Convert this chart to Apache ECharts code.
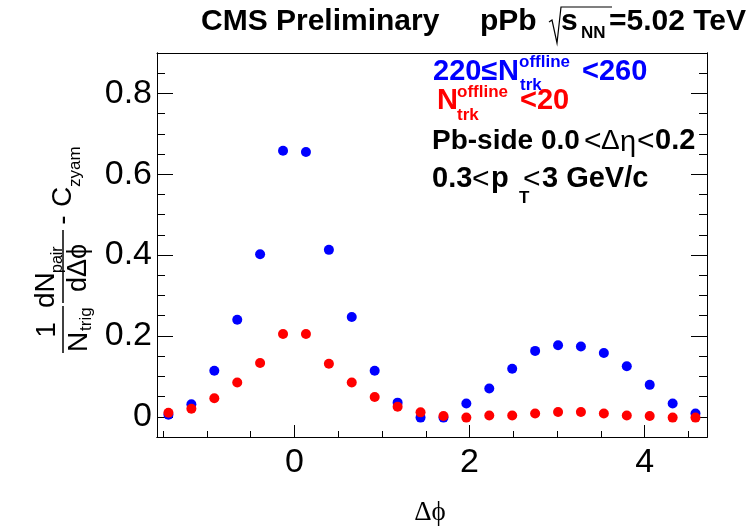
<!DOCTYPE html>
<html><head><meta charset="utf-8">
<script src="https://cdn.jsdelivr.net/npm/echarts@6/dist/echarts.min.js"></script>
<style>html,body{margin:0;padding:0;background:#fff}#c{width:756px;height:527px}</style>
</head><body><div id="c"></div>
<script>
// bin centres in Δφ (rad)
const dphi = [-1.440,-1.178,-0.916,-0.654,-0.393,-0.131,0.131,0.393,0.654,0.916,1.178,1.440,
              1.702,1.963,2.225,2.487,2.749,3.011,3.272,3.534,3.796,4.058,4.320,4.581];
// 220 <= N_trk^offline < 260 (blue)
const highMult = [0.005,0.031,0.114,0.240,0.402,0.658,0.655,0.413,0.247,0.114,0.035,-0.002,
                  -0.002,0.033,0.070,0.119,0.163,0.177,0.174,0.158,0.125,0.079,0.033,0.008];
// N_trk^offline < 20 (red)
const lowMult  = [0.010,0.020,0.046,0.085,0.133,0.205,0.205,0.131,0.085,0.049,0.025,0.011,
                  0.002,-0.002,0.003,0.003,0.008,0.012,0.012,0.008,0.003,0.002,-0.002,-0.002];
const yMajor = [0,0.2,0.4,0.6,0.8];
const yMinor = [0.05,0.1,0.15,0.25,0.3,0.35,0.45,0.5,0.55,0.65,0.7,0.75,0.85];
const xMajor = [0,2,4];
const xMinor = [-1.5,-1,-0.5,0.5,1,1.5,2.5,3,3.5,4.5];
const X_MIN = -Math.PI/2, X_MAX = 3*Math.PI/2, Y_MIN = -0.05, Y_MAX = 0.9;

const FONT = "'Liberation Sans', Arial, Helvetica, sans-serif";
const SERIF = "'Liberation Serif','DejaVu Serif',serif";
const chart = echarts.init(document.getElementById('c'), null, {renderer:'canvas'});
const black = '#000';
function yAx(pos, ticks, len, labels){
  return {type:'value', position:pos, min:Y_MIN, max:Y_MAX, scale:true,
    axisLine:{show:true, onZero:false, lineStyle:{color:black,width:1}},
    axisTick:{show:true, inside:true, length:len, customValues:ticks, lineStyle:{color:black,width:1}},
    axisLabel:{show:!!labels, customValues:labels||[], margin:5, color:black, fontSize:34, fontFamily:FONT},
    splitLine:{show:false}};
}
function xAx(pos, ticks, len, labels){
  return {type:'value', position:pos, min:X_MIN, max:X_MAX,
    axisLine:{show:true, onZero:false, lineStyle:{color:black,width:1}},
    axisTick:{show:!!ticks, inside:true, length:len, customValues:ticks||[], lineStyle:{color:black,width:1}},
    axisLabel:{show:!!labels, customValues:labels||[], margin:9, color:black, fontSize:34, fontFamily:FONT},
    splitLine:{show:false}};
}
const T = (text, x, y, o) => ({type:'text', x, y, style:Object.assign({text, fill:black, fontFamily:FONT, fontSize:29, fontWeight:'bold', align:'left', verticalAlign:'middle'}, o||{})});
const R = (text, x, y, o) => ({type:'text', x, y, style:Object.assign({text, fill:black, fontFamily:FONT, fontSize:30, align:'left', verticalAlign:'middle'}, o||{})});

const option = {
  animation:false,
  backgroundColor:'#fff',
  grid:{left:157, right:49, top:53, bottom:90, containLabel:false},
  xAxis:[xAx('bottom', xMajor, 12, xMajor), xAx('bottom', xMinor, 6), xAx('top', null, 0)],
  yAxis:[yAx('left', yMajor, 16, yMajor), yAx('left', yMinor, 8), yAx('right', yMajor, 16), yAx('right', yMinor, 8)],
  series:[
    {type:'scatter', name:'high', symbol:'circle', symbolSize:10, itemStyle:{color:'#0000ff', opacity:1},
     data: dphi.map((x,i)=>[x, highMult[i]]), z:2},
    {type:'scatter', name:'low', symbol:'circle', symbolSize:10, itemStyle:{color:'#ff0000', opacity:1},
     data: dphi.map((x,i)=>[x, lowMult[i]]), z:3}
  ],
  graphic:[
    // header
    T('CMS Preliminary', 201, 22, {fontSize:30}),
    T('pPb', 480, 22, {fontSize:30}),
    {type:'polyline', shape:{points:[[549,22],[552,20],[557,43],[561,7],[612,7]]}, style:{stroke:black, lineWidth:1.2, fill:null}},
    T('s', 561, 22, {fontSize:30}),
    T('NN', 581, 33, {fontSize:17}),
    T('=5.02 TeV', 609, 22, {fontSize:30}),
    // legend entries
    T('220\u2264', 433, 72, {fill:'#0000ff'}),
    T('N', 498, 72, {fill:'#0000ff'}),
    T('offline', 519, 62, {fill:'#0000ff', fontSize:17}),
    T('trk', 520, 85, {fill:'#0000ff', fontSize:17}),
    T('<260', 582, 72, {fill:'#0000ff'}),
    T('N', 437, 101, {fill:'#ff0000'}),
    T('offline', 457, 92, {fill:'#ff0000', fontSize:17}),
    T('trk', 457, 115, {fill:'#ff0000', fontSize:17}),
    T('<20', 520, 101, {fill:'#ff0000'}),
    T('Pb-side 0.0', 432, 141, {fontSize:28}),
    R('<', 584, 142),
    R('\u0394', 601, 141, {fontSize:28}),
    R('\u03b7', 620, 143, {fontSize:29}),
    R('<', 637, 142),
    T('0.2', 655, 141),
    T('0.3', 432, 179),
    R('<', 472, 180),
    T('p', 491, 179),
    T('T', 519, 198, {fontSize:17}),
    R('<', 523, 180),
    T('3 GeV/c', 542, 179),
    // x-axis title
    {type:'text', x:430, y:513, style:{text:'\u0394\u03d5', fill:black, fontFamily:SERIF, fontSize:27, align:'center', verticalAlign:'middle'}},
    // y-axis title (rotated group)
    {type:'group', x:63, y:353, rotation:Math.PI/2, children:[
      {type:'line', shape:{x1:0,y1:0,x2:47,y2:0}, style:{stroke:black, lineWidth:1.5}},
      {type:'line', shape:{x1:50,y1:0,x2:123,y2:0}, style:{stroke:black, lineWidth:1.5}},
      {type:'text', x:23, y:-2, style:{text:'1', fill:black, fontFamily:FONT, fontSize:28, align:'center', verticalAlign:'bottom'}},
      {type:'text', x:1, y:2, style:{text:'N', fill:black, fontFamily:FONT, fontSize:28, align:'left', verticalAlign:'top'}},
      {type:'text', x:22, y:15, style:{text:'trig', fill:black, fontFamily:FONT, fontSize:17, align:'left', verticalAlign:'top'}},
      {type:'text', x:45, y:-3, style:{text:'dN', fill:black, fontFamily:FONT, fontSize:28, align:'left', verticalAlign:'bottom'}},
      {type:'text', x:80, y:3, style:{text:'pair', fill:black, fontFamily:FONT, fontSize:16, align:'left', verticalAlign:'bottom'}},
      {type:'text', x:85, y:2, style:{text:'d\u0394\u03d5', fill:black, fontFamily:FONT, fontSize:27, align:'center', verticalAlign:'top'}},
      {type:'text', x:133, y:0, style:{text:'-', fill:black, fontFamily:FONT, fontSize:28, align:'center', verticalAlign:'middle'}},
      {type:'text', x:146, y:0, style:{text:'C', fill:black, fontFamily:FONT, fontSize:28, align:'left', verticalAlign:'middle'}},
      {type:'text', x:166, y:12, style:{text:'zyam', fill:black, fontFamily:FONT, fontSize:17, align:'left', verticalAlign:'middle'}}
    ]}
  ]
};
chart.setOption(option);
</script>
</body></html>
